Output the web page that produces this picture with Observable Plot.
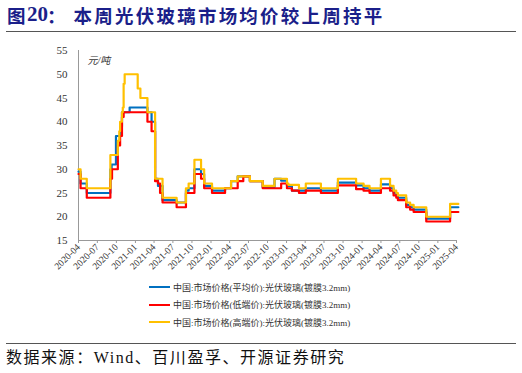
<!DOCTYPE html>
<html>
<head>
<meta charset="utf-8">
<script src="https://cdn.jsdelivr.net/npm/d3@7"></script>
<script src="https://cdn.jsdelivr.net/npm/@observablehq/plot@0.6"></script>
<style>
  html, body { margin: 0; padding: 0; background: #fff; }
  #wrap { position: relative; width: 522px; height: 373px; overflow: hidden; font-family: "Liberation Serif", "Noto Sans CJK SC", serif; }
  #title { position: absolute; left: 0; top: 0; width: 522px; height: 30px; font-family: "Noto Sans CJK SC", sans-serif; font-weight: 700; font-size: 18.5px; color: #1B1F8A; }
  #title span { position: absolute; top: 3px; line-height: 24px; white-space: nowrap; }
  #rule1 { position: absolute; left: 6px; width: 510px; top: 31px; height: 0; border-top: 1.5px solid #555; }
  #chart { position: absolute; left: 0; top: 38px; }
  #legend { position: absolute; left: 149px; top: 280px; font-size: 9px; color: #333; }
  .lg { position: absolute; left: 0; height: 14px; white-space: nowrap; display: flex; align-items: center; }
  .lg .sw { width: 21px; height: 2px; margin-right: 3px; }
  #rule2 { position: absolute; left: 6px; width: 510px; top: 343px; height: 0; border-top: 1px solid #555; }
  #source { position: absolute; left: 6px; top: 347px; font-size: 16px; line-height: 22px; color: #111; white-space: nowrap; font-family: "Liberation Serif", "Noto Sans CJK SC", serif; }
</style>
</head>
<body>
<div id="wrap">
  <div id="title"></div>
  <div id="rule1"></div>
  <div id="chart"></div>
  <div id="legend"></div>
  <div id="rule2"></div>
  <div id="source">数据来源：Wind、百川盈孚、开源证券研究</div>
</div>
<script>
// ---- data (change points of weekly step series) ----
const titlePrefix = "图20：";
const titleMain = "本周光伏玻璃市场均价较上周持平";
const seriesNames = [
  "中国:市场价格(平均价):光伏玻璃(镀膜3.2mm)",
  "中国:市场价格(低端价):光伏玻璃(镀膜3.2mm)",
  "中国:市场价格(高端价):光伏玻璃(镀膜3.2mm)"
];
const seriesColors = ["#0070C0", "#FF0000", "#FFC000"];
const endDate = "2025-04-10";

const avgDates = ["2020-04-01","2020-04-11","2020-05-11","2020-09-02","2020-09-08","2020-09-29","2020-10-19","2020-10-28","2020-12-04","2021-02-28","2021-03-20","2021-04-06","2021-04-20","2021-05-12","2021-07-19","2021-09-02","2021-09-15","2021-10-13","2021-11-14","2021-11-29","2022-01-06","2022-03-10","2022-04-08","2022-05-10","2022-07-08","2022-09-08","2022-11-04","2022-12-06","2023-01-03","2023-01-27","2023-04-04","2023-06-16","2023-09-06","2023-12-03","2024-01-08","2024-02-06","2024-04-01","2024-05-15","2024-06-01","2024-06-14","2024-06-22","2024-08-01","2024-08-20","2024-09-06","2024-11-06","2025-03-01"];
const avgValues = [29.5,27,25,30,31,37,39,42,43,42,40,28,26.5,23.5,23,25.5,26,30,29,26.5,25.5,26,27.5,28.5,27.5,26.2,28,27.6,26.5,25.5,26,25.5,27.2,26.6,26,25.5,26.8,26,25,24.5,24,22.5,22,21.5,19.6,22];

const lowDates = ["2020-04-01","2020-04-11","2020-05-11","2020-09-02","2020-09-10","2020-10-08","2020-10-19","2020-10-28","2020-11-05","2021-02-28","2021-03-20","2021-04-06","2021-04-20","2021-04-30","2021-05-12","2021-07-19","2021-09-02","2021-10-13","2021-11-14","2021-11-29","2022-01-06","2022-03-10","2022-05-10","2022-06-06","2022-07-08","2022-09-08","2022-12-06","2023-01-03","2023-01-27","2023-03-02","2023-04-04","2023-06-16","2023-09-06","2023-12-03","2024-01-08","2024-02-06","2024-04-01","2024-05-15","2024-06-01","2024-06-14","2024-06-22","2024-08-01","2024-08-20","2024-09-06","2024-11-06","2025-03-01"];
const lowValues = [29,26,24,28,30,35,37,41,42,40,38,27.5,27,25,23,22,25,29,28,26,25,26,27.5,28.5,27.5,26,27,26,25.5,25,25.5,25,26.6,25.8,25.5,25,26,25.5,24.5,24,23.5,22,21.5,21,19,21];

const highDates = ["2020-04-01","2020-04-11","2020-05-11","2020-09-02","2020-10-08","2020-10-15","2020-10-19","2020-10-28","2020-11-01","2020-11-05","2020-11-10","2021-01-12","2021-01-25","2021-02-28","2021-04-06","2021-05-12","2021-07-19","2021-09-02","2021-09-15","2021-10-13","2021-11-14","2021-11-29","2022-01-06","2022-04-08","2022-05-10","2022-07-08","2022-09-08","2022-11-04","2023-01-03","2023-01-10","2023-03-02","2023-04-04","2023-06-16","2023-09-06","2023-12-03","2024-01-08","2024-02-06","2024-04-01","2024-05-15","2024-06-01","2024-06-14","2024-06-22","2024-08-01","2024-08-20","2024-09-06","2024-11-06","2025-03-01"];
const highValues = [30,28,26,33,36,38,40,42,43,48,50,47,45,42,28,24,23,26,27,32,30,27,26,27.5,28.5,27.5,26.5,28,27,26.7,26,27,26,28,27,26.5,26,28,26.5,25.5,25,24.5,23,22.5,22,20,22.7];

const yTicks = [15,20,25,30,35,40,45,50,55];
const xStart = "2020-04-01", xEnd = "2025-04-01";
const unitLabel = "元/吨";

// ---- title (fixed character pitch like the reference) ----
const titleEl = document.getElementById("title");
function addSpan(text, left, extra) {
  const s = document.createElement("span");
  s.textContent = text;
  s.style.left = left + "px";
  if (extra) Object.assign(s.style, extra);
  titleEl.appendChild(s);
}
addSpan(titlePrefix[0], 7);
addSpan(titlePrefix.slice(1, 3), 27, {fontFamily: "Liberation Serif, serif", fontSize: "21px", top: "2px"});
addSpan(titlePrefix[3], 47);
const pitch = (383 - 72) / titleMain.length;
Array.from(titleMain).forEach((ch, i) => addSpan(ch, 72 + i * pitch + 1.5));

// ---- build table ----
const parse = d3.utcParse("%Y-%m-%d");
function build(name, dates, values) {
  const rows = dates.map((d, i) => ({series: name, date: parse(d), value: values[i]}));
  rows.push({series: name, date: parse(endDate), value: values[values.length - 1]});
  return rows;
}
const data = [
  ...build(seriesNames[0], avgDates, avgValues),
  ...build(seriesNames[1], lowDates, lowValues),
  ...build(seriesNames[2], highDates, highValues)
];
const xTicks = d3.utcMonth.every(3).range(parse(xStart), d3.utcDay.offset(parse(xEnd), 1));

const fontFam = "Liberation Serif, Noto Sans CJK SC, serif";
const chart = Plot.plot({
  width: 522,
  height: 240,
  marginTop: 12,
  marginBottom: 38,
  marginLeft: 78,
  marginRight: 66,
  style: {fontFamily: fontFam, background: "#fff", color: "#333"},
  x: {type: "utc", domain: [parse(xStart), parse(xEnd)]},
  y: {domain: [15, 55]},
  color: {domain: seriesNames, range: seriesColors},
  marks: [
    Plot.axisY({ticks: yTicks, tickSize: 0, tickPadding: 11, fontSize: 11, label: null}),
    Plot.axisX({ticks: xTicks, tickSize: 3, tickRotate: -45, tickFormat: d3.utcFormat("%Y-%m"), fontSize: 9.5, label: null, stroke: "#999", tickPadding: 2}),
    Plot.ruleY([15], {stroke: "#999"}),
    Plot.ruleX([parse(xStart)], {y1: 15, y2: 55, stroke: "#999"}),
    Plot.line(data, {x: "date", y: "value", z: "series", stroke: "series", curve: "step-after", strokeWidth: 2.2}),
    Plot.text([unitLabel], {frameAnchor: "top-left", dx: 9, dy: 10, lineAnchor: "middle", textAnchor: "start", fontSize: 10, fill: "#333", fontStyle: "italic"})
  ]
});
document.getElementById("chart").appendChild(chart);

// ---- legend ----
const legend = document.getElementById("legend");
const tops = [0, 17.5, 35];
seriesNames.forEach((n, i) => {
  const row = document.createElement("div");
  row.className = "lg";
  row.style.top = tops[i] + "px";
  row.innerHTML = `<span class="sw" style="background:${seriesColors[i]}"></span><span>${n}</span>`;
  legend.appendChild(row);
});

// ---- fit source text width to reference ----
const src = document.getElementById("source");
src.style.letterSpacing = "0px";
const w0 = src.getBoundingClientRect().width;
src.style.letterSpacing = ((344 - w0) / 24).toFixed(2) + "px";
</script>
</body>
</html>
